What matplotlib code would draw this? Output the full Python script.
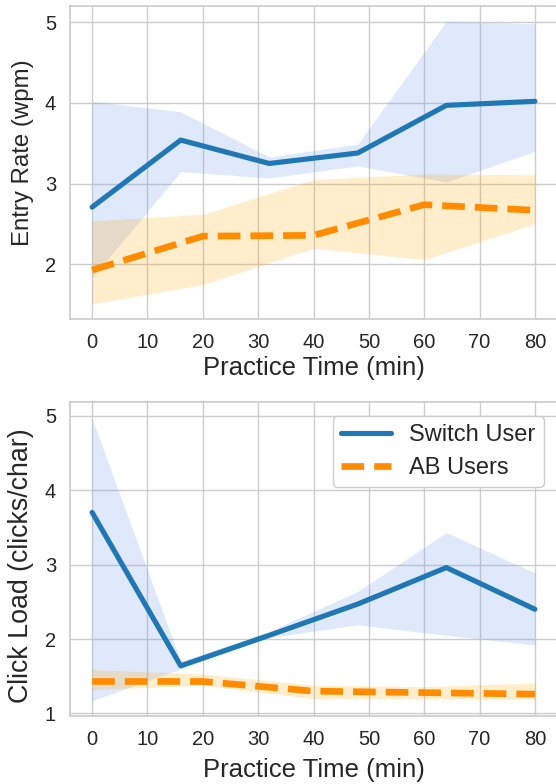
import matplotlib
matplotlib.use("Agg")
import matplotlib.pyplot as plt
import seaborn as sns

# practice time (min)
switch_t = [0, 16, 32, 48, 64, 80]
ab_t = [0, 20, 40, 60, 80]

# entry rate (wpm)
switch_rate = [2.71, 3.54, 3.25, 3.38, 3.97, 4.02]
switch_rate_hi = [4.02, 3.89, 3.33, 3.49, 5.01, 4.98]
switch_rate_lo = [1.83, 3.15, 3.07, 3.22, 3.02, 3.40]
ab_rate = [1.93, 2.35, 2.36, 2.74, 2.67]
ab_rate_hi = [2.54, 2.62, 3.05, 3.12, 3.11]
ab_rate_lo = [1.51, 1.75, 2.20, 2.06, 2.50]

# click load (clicks/char)
switch_load = [3.70, 1.64, 2.05, 2.47, 2.96, 2.40]
switch_load_hi = [4.96, 1.70, 2.10, 2.64, 3.43, 2.89]
switch_load_lo = [1.17, 1.60, 2.02, 2.19, 2.05, 1.92]
ab_load = [1.43, 1.43, 1.30, 1.28, 1.26]
ab_load_hi = [1.59, 1.53, 1.38, 1.36, 1.41]
ab_load_lo = [1.32, 1.38, 1.20, 1.20, 1.19]

xticks = list(range(0, 90, 10))

sns.set_theme(style="whitegrid")
plt.rcParams['font.family'] = ['Liberation Sans', 'DejaVu Sans']

BLUE = '#1f77b4'
ORANGE = '#ff8c00'


def draw(ax, s_mean, s_hi, s_lo, a_mean, a_hi, a_lo, ylabel, yticks, ylim,
         ylab_size, ylab_y, xlab_pad):
    ax.fill_between(switch_t, s_lo, s_hi, color='cornflowerblue', alpha=0.2, linewidth=0)
    ax.fill_between(ab_t, a_lo, a_hi, color='orange', alpha=0.2, linewidth=0)
    ax.plot(switch_t, s_mean, color=BLUE, linewidth=3.7, label='Switch User')
    ax.plot(ab_t, a_mean, color=ORANGE, linewidth=4.8, linestyle=(0, (3.4, 1.5)), label='AB Users')
    ax.set_xlim(-4, 84)
    ax.set_ylim(*ylim)
    ax.set_xticks(xticks)
    ax.set_yticks(yticks)
    ax.tick_params(labelsize=14.5, colors='.15', pad=4)
    ax.set_xlabel('Practice Time (min)', fontsize=18.5, color='.15', labelpad=xlab_pad)
    ax.set_ylabel(ylabel, fontsize=ylab_size, color='.15')
    ax.yaxis.set_label_coords(-0.074, ylab_y)


fig = plt.figure(figsize=(5.56, 7.84), dpi=100)
ax1 = fig.add_axes([0.1259, 0.5927, 0.876, 0.3996])
ax2 = fig.add_axes([0.1259, 0.0871, 0.876, 0.3998])

draw(ax1, switch_rate, switch_rate_hi, switch_rate_lo, ab_rate, ab_rate_hi, ab_rate_lo,
     'Entry Rate (wpm)', [2, 3, 4, 5], (1.32, 5.2), 17.3, 0.532, 3)
draw(ax2, switch_load, switch_load_hi, switch_load_lo, ab_load, ab_load_hi, ab_load_lo,
     'Click Load (clicks/char)', [1, 2, 3, 4, 5], (0.97, 5.18), 19.3, 0.478, 7)

ax2.legend(loc='upper right', fontsize=17, handlelength=2.1, borderpad=0.35,
           labelspacing=0.45, borderaxespad=0,
           bbox_to_anchor=(0.973, 0.956), framealpha=1)

fig.savefig('out.png', dpi=100)
